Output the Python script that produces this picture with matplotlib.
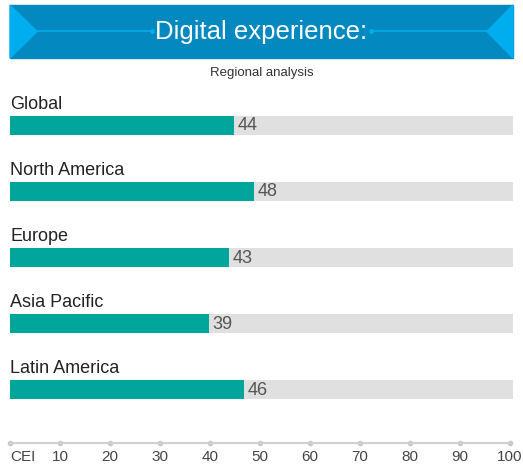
import matplotlib.pyplot as plt
from matplotlib.patches import Rectangle, Polygon

regions = ['Global', 'North America', 'Europe', 'Asia Pacific', 'Latin America']
scores = [44, 48, 43, 39, 46]
tick_values = [0, 10, 20, 30, 40, 50, 60, 70, 80, 90, 100]
tick_labels = ['CEI', '10', '20', '30', '40', '50', '60', '70', '80', '90', '100']

W, H = 523, 465
plt.rcParams['font.family'] = ['Liberation Sans', 'DejaVu Sans']
fig = plt.figure(figsize=(W / 100, H / 100), dpi=100)

# banner drawn in pixel coordinates
deco = fig.add_axes([0, 0, 1, 1])
deco.set_xlim(0, W)
deco.set_ylim(H, 0)
deco.axis('off')
dark = '#0389c0'
light = '#00aeef'
deco.add_patch(Rectangle((10, 5), 503, 53, color=dark))
deco.add_patch(Polygon([(10, 5), (37, 31.5), (10, 58)], color=light))
deco.add_patch(Polygon([(513, 5), (487, 31.5), (513, 58)], color=light))
deco.plot([37, 152], [31.5, 31.5], color=light, lw=1.2)
deco.plot([371, 487], [31.5, 31.5], color=light, lw=1.2)
deco.plot([152, 371], [31.5, 31.5], 'o', color=light, ms=2.5)
deco.text(261.5, 32, 'Digital experience:', color='white', fontsize=18.5,
          ha='center', va='center')
deco.text(261.5, 73, 'Regional analysis', color='#333333', fontsize=9.5,
          ha='center', va='center')

# bars: axes spans pixel rows 59..459, one unit = 66 px, first centre at 125.5 px
ax = fig.add_axes([10 / W, (H - 459) / H, 503 / W, 400 / H])
ax.set_xlim(0, 98.8)
ax.set_ylim(5.05, -1.0)
ax.axis('off')
pos = list(range(len(regions)))
ax.barh(pos, [98.8] * len(pos), height=0.29, color='#e0e0e0')
ax.barh(pos, scores, height=0.29, color='#00a69c')
for i, (name, v) in enumerate(zip(regions, scores)):
    ax.text(0, i - 0.25, name, fontsize=13, color='#222222', ha='left', va='baseline')
    ax.text(v + 0.7, i + 0.01, str(v), fontsize=13, color='#555555', ha='left', va='center')

# scale at the bottom
sx = fig.add_axes([10 / W, (H - 443) / H, 500 / W, 0.001])
sx.set_xlim(0, 100)
sx.set_ylim(0, 1)
for s in ['top', 'left', 'right']:
    sx.spines[s].set_visible(False)
sx.spines['bottom'].set_color('#d0d0d0')
sx.spines['bottom'].set_linewidth(1.5)
sx.set_yticks([])
sx.set_xticks(tick_values)
sx.set_xticklabels(tick_labels, fontsize=11, color='#444444')
sx.get_xticklabels()[0].set_ha('left')
sx.tick_params(axis='x', length=0, pad=5)
sx.plot(tick_values, [0] * len(tick_values), 'o', color='#c8c8c8', ms=3, clip_on=False)

fig.savefig('out.png', dpi=100)
